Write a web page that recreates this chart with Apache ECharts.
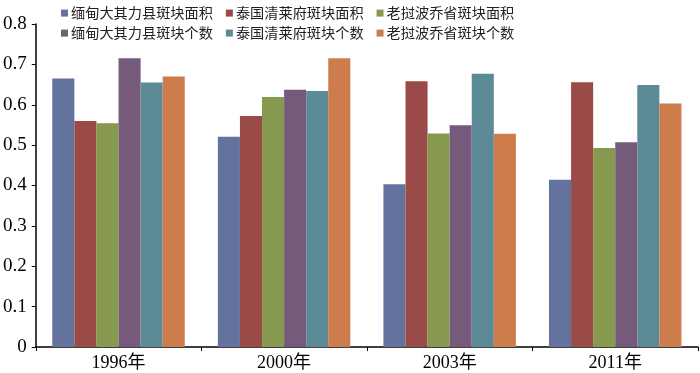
<!DOCTYPE html>
<html><head><meta charset="utf-8">
<script src="https://cdn.jsdelivr.net/npm/echarts@6/dist/echarts.min.js"></script>
<style>html,body{margin:0;padding:0;background:#fff}#c{width:700px;height:373px}</style>
</head><body><div id="c"></div>
<script>
const categories = ['1996年', '2000年', '2003年', '2011年'];
const seriesNames = ['缅甸大其力县斑块面积', '泰国清莱府斑块面积', '老挝波乔省斑块面积', '缅甸大其力县斑块个数', '泰国清莱府斑块个数', '老挝波乔省斑块个数'];
const mmArea = [0.665, 0.521, 0.403, 0.414];
const thArea = [0.560, 0.572, 0.658, 0.656];
const laArea = [0.554, 0.619, 0.529, 0.493];
const mmCount = [0.715, 0.637, 0.549, 0.507];
const thCount = [0.655, 0.634, 0.677, 0.649];
const laCount = [0.670, 0.715, 0.528, 0.603];
const yTicks = [0, 0.1, 0.2, 0.3, 0.4, 0.5, 0.6, 0.7, 0.8];
const colors = ['#63739e', '#9a4a47', '#87994f', '#755a7c', '#5d8a97', '#cc7d4b'];
const allData = [mmArea, thArea, laArea, mmCount, thCount, laCount];

const serifCJK = '"Liberation Serif", "Noto Sans CJK SC", serif';
const chart = echarts.init(document.getElementById('c'), null, {renderer: 'canvas'});
const legendCommon = {
  orient: 'horizontal', left: 56, itemWidth: 7, itemHeight: 7, itemGap: 13, icon: 'rect',
  textStyle: {fontFamily: '"Noto Sans CJK SC", serif', fontSize: 14.2, color: '#222', padding: [0,0,0,-2]}
};
chart.setOption({
  animation: false,
  color: colors,
  legend: [
    Object.assign({}, legendCommon, {top: 1, data: seriesNames.slice(0, 3)}),
    Object.assign({}, legendCommon, {top: 21, data: seriesNames.slice(3, 6)})
  ],
  grid: {left: 32, right: 2, top: 24, bottom: 26},
  xAxis: {
    type: 'category', data: categories,
    axisLine: {lineStyle: {color: '#000', width: 1.5}},
    axisTick: {show: true, length: 4, lineStyle: {color: '#000'}},
    axisLabel: {fontFamily: serifCJK, fontSize: 18, color: '#000', margin: 7}
  },
  yAxis: {
    type: 'value', min: yTicks[0], max: yTicks[yTicks.length - 1], interval: 0.1,
    axisLine: {show: true, lineStyle: {color: '#000', width: 1.5}},
    axisTick: {show: true, length: 4, lineStyle: {color: '#000'}},
    splitLine: {show: false},
    axisLabel: {fontFamily: serifCJK, fontSize: 19, color: '#000', margin: 9,
      formatter: v => String(Math.round(v * 10) / 10)}
  },
  series: seriesNames.map((n, i) => ({
    name: n, type: 'bar', data: allData[i], barGap: '0%', barCategoryGap: '20%',
    itemStyle: {color: colors[i]}
  }))
});
</script></body></html>
